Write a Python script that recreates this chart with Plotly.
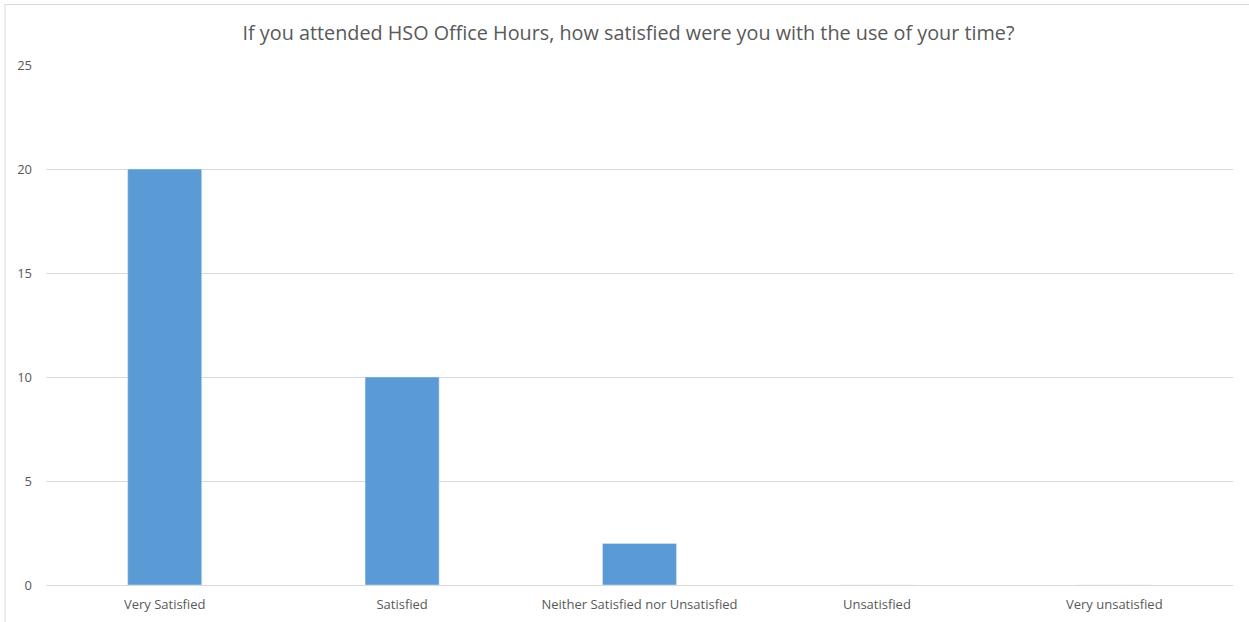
import plotly.graph_objects as go

categories = ["Very Satisfied", "Satisfied", "Neither Satisfied nor Unsatisfied", "Unsatisfied", "Very unsatisfied"]
values = [20, 10, 2, 0, 0]
y_ticks = [0, 5, 10, 15, 20, 25]
title_text = "If you attended HSO Office Hours, how satisfied were you with the use of your time?"

W, H = 1249, 622
L, R, T, B = 46, 16, 65, 37
pw, ph = W - L - R, H - T - B

fig = go.Figure(go.Bar(x=categories, y=values, marker_color="#5b9bd5", hoverinfo="x+y"))

fig.update_layout(
    width=W, height=H,
    margin=dict(l=L, r=R, t=T, b=B),
    paper_bgcolor="white", plot_bgcolor="white",
    bargap=0.688,
    showlegend=False,
    font=dict(family="Open Sans, Liberation Sans, sans-serif", color="#595959", size=13),
    title=dict(text=title_text, x=628.5 / W, xanchor="center", xref="container",
               y=1 - 33 / H, yref="container", yanchor="middle",
               font=dict(size=19.8, color="#595959")),
)
fig.update_xaxes(showgrid=False, showline=True, linecolor="#d9d9d9", linewidth=1, automargin=False,
                 ticks="", ticklabelstandoff=7, tickfont=dict(size=13, color="#595959"))
fig.update_yaxes(range=[0, 25], tickvals=y_ticks, showgrid=True, gridcolor="#d9d9d9", gridwidth=1,
                 zeroline=False, showline=False, ticks="", ticklabelstandoff=13, automargin=False,
                 tickfont=dict(size=13, color="#595959"))

# chart-area border
fig.add_shape(type="rect", xref="paper", yref="paper",
              x0=(5 - L) / pw, x1=(W + 10 - L) / pw,
              y0=-(B + 10) / ph, y1=1 + (T - 4.5) / ph,
              line=dict(color="#d9d9d9", width=1), fillcolor="rgba(0,0,0,0)", layer="below")

fig.write_html("out.html", config={"displayModeBar": False},
               post_script="document.body.style.margin='0';document.body.style.overflow='hidden';")
